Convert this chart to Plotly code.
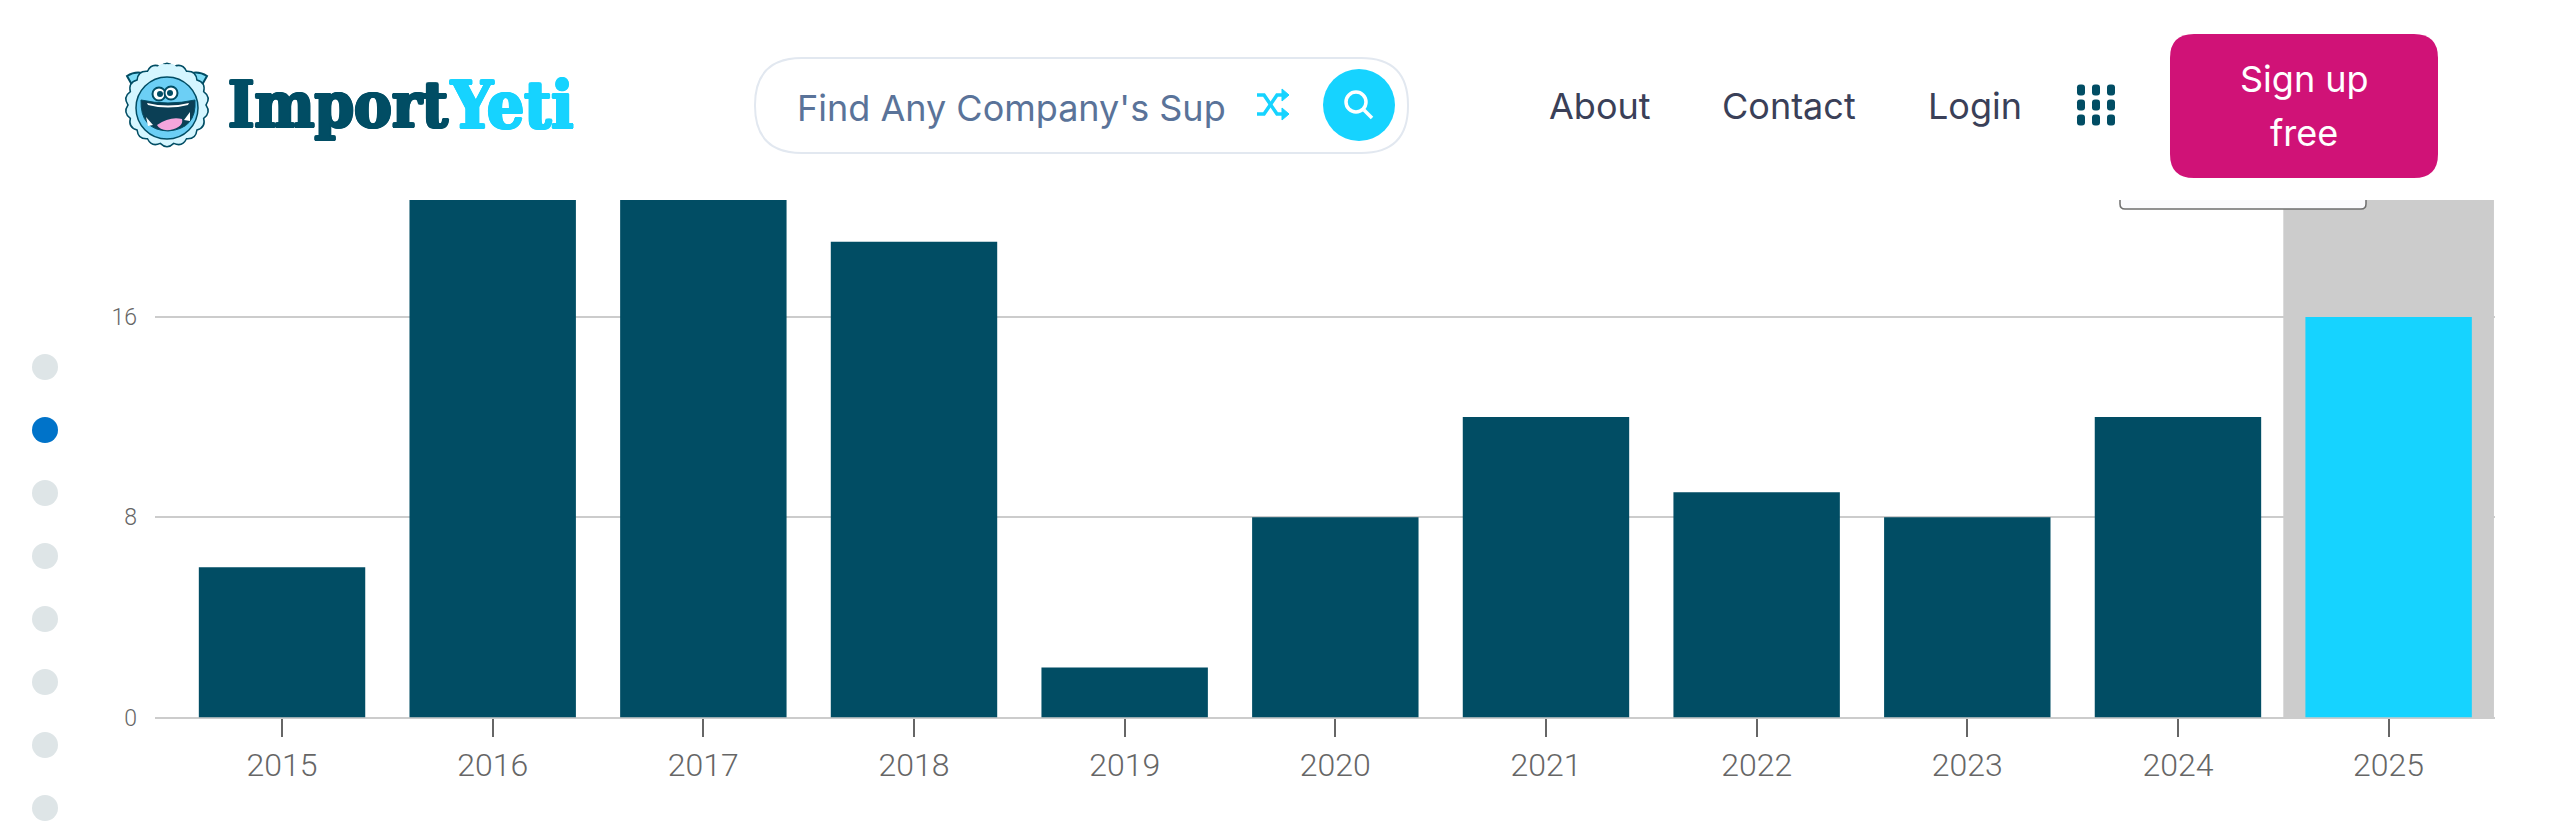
import math
import plotly.graph_objects as go

# Chart data
years = ["2015", "2016", "2017", "2018", "2019", "2020", "2021", "2022", "2023", "2024", "2025"]
shipments = [6, 24, 22, 19, 2, 8, 12, 9, 8, 12, 16]
y_ticks = [0, 8, 16]
highlight_year = "2025"

# Colours
NAVY = "#014D64"
CYAN = "#16D3FF"
BAND = "#CCCCCC"
PINK = "#D01277"
W, H = 2560, 837

# Plot box in pixels
LEFT, RIGHT, TOP, BASE = 155, 2495, 200, 717.6
UNIT = 25.04
Y_MAX = (BASE - TOP) / UNIT


def fx(x):
    return x / W


def fy(y):
    return 1 - y / H


shapes = []
annotations = []


def circle(cx, cy, r, fill, line=None, lw=0):
    shapes.append(dict(type="circle", xref="paper", yref="paper",
                       x0=fx(cx - r), x1=fx(cx + r), y0=fy(cy + r), y1=fy(cy - r),
                       fillcolor=fill, line=dict(color=line or fill, width=lw), layer="above"))


def path(points, fill=None, line=None, lw=0, close=True):
    """Curve from tokens: pixel pairs and SVG command letters."""
    parts = []
    for p in points:
        parts.append(p if isinstance(p, str) else f"{fx(p[0]):.6f},{fy(p[1]):.6f}")
    d = " ".join(parts) + (" Z" if close else "")
    shapes.append(dict(type="path", xref="paper", yref="paper", path=d,
                       fillcolor=fill or "rgba(0,0,0,0)",
                       line=dict(color=line or "rgba(0,0,0,0)", width=lw), layer="above"))


def round_rect(x0, y0, x1, y1, r, fill, line=None, lw=0):
    path(["M", (x0 + r, y0), "L", (x1 - r, y0), "Q", (x1, y0), (x1, y0 + r),
          "L", (x1, y1 - r), "Q", (x1, y1), (x1 - r, y1),
          "L", (x0 + r, y1), "Q", (x0, y1), (x0, y1 - r),
          "L", (x0, y0 + r), "Q", (x0, y0), (x0 + r, y0)], fill, line, lw)


def label(x, y, text, size, color, family="Inter", anchor="left", shadow=None):
    font = dict(family=family, size=size, color=color)
    if shadow:
        font["shadow"] = shadow
    annotations.append(dict(xref="paper", yref="paper", x=fx(x), y=fy(y), text=text,
                            showarrow=False, xanchor=anchor, yanchor="middle", borderpad=0,
                            font=font))


def fluff(cx, cy, r, bumps, depth, fill, line, lw):
    """Scalloped outline of the mascot's fur."""
    def at(angle, radius):
        return (cx + radius * math.cos(angle), cy + radius * math.sin(angle))
    step = 2 * math.pi / bumps
    pts = ["M", at(0, r)]
    for i in range(bumps):
        pts += ["Q", at((i + 0.5) * step, r + depth), at((i + 1) * step, r)]
    path(pts, fill, line, lw)


def heavy(color):
    return ", ".join(f"{dx}px {dy}px 0 {color}" for dx, dy in
                     ((1.5, 0), (-1.5, 0), (0, 1), (0, -1), (1, 1), (-1, -1), (1, -1), (-1, 1)))


# Yeti logo
path(["M", (127, 76), "Q", (136, 70), (146, 74), "L", (156, 90), "L", (136, 92)], "#7FDDF7", NAVY, 2)
path(["M", (207, 76), "Q", (198, 70), (188, 74), "L", (178, 90), "L", (198, 92)], "#7FDDF7", NAVY, 2)
fluff(167, 105, 39, 18, 6, "#D5F6FF", NAVY, 1.5)
fluff(167, 80, 15, 8, 5, "#D5F6FF", None, 0)
circle(167, 108, 31, "#6CCFF5", NAVY, 1.5)
path(["M", (141, 100), "Q", (168, 106), (195, 100), "Q", (197, 129), (168, 131),
      "Q", (140, 130), (141, 100)], "#0B3F55", NAVY, 1)
path(["M", (157, 125), "Q", (170, 116), (182, 119), "Q", (184, 127), (170, 130), "Q", (160, 131), (157, 125)], "#F4A6DC")
path(["M", (146, 117), "L", (153, 125), "L", (148, 126)], "#FFFFFF")
path(["M", (190, 112), "L", (184, 120), "L", (190, 121)], "#FFFFFF")
path(["M", (147, 103), "Q", (168, 108), (189, 103), "L", (188, 105), "Q", (168, 110), (148, 105)], "#FFFFFF")
circle(159, 94, 6.5, "#FFFFFF", NAVY, 2)
circle(171, 93, 6.5, "#FFFFFF", NAVY, 2)
circle(160, 94, 3, NAVY)
circle(170, 93, 3, NAVY)

# Wordmark
label(227, 105, "<b>Import</b>", 63, NAVY, "DejaVu Serif Condensed", shadow=heavy(NAVY))
label(449, 105, "<b>Yeti</b>", 65, CYAN, "DejaVu Serif Condensed", shadow=heavy(CYAN))

# Search box
round_rect(755, 58, 1408, 153, 47, "#FFFFFF", "#E2E8F0", 2)
label(796, 108, "Find Any Company's Sup", 36, "#5A7399")
path(["M", (1257, 95), "L", (1264, 95), "L", (1277, 114), "L", (1284, 114)], None, CYAN, 3.5, close=False)
path(["M", (1257, 114), "L", (1264, 114), "L", (1277, 95), "L", (1284, 95)], None, CYAN, 3.5, close=False)
path(["M", (1282, 89), "L", (1289, 95), "L", (1282, 101)], CYAN, CYAN, 1)
path(["M", (1282, 108), "L", (1289, 114), "L", (1282, 120)], CYAN, CYAN, 1)
circle(1359, 105, 36, CYAN)
circle(1356, 102, 10, "rgba(0,0,0,0)", "#FFFFFF", 3.5)
path(["M", (1364, 110), "L", (1372, 118)], None, "#FFFFFF", 3.5, close=False)

# Navigation
label(1547.5, 106, "About", 36, "#3A4058")
label(1720.5, 106, "Contact", 36, "#3A4058")
label(1926.5, 106, "Login", 36, "#3A4058")
for gx in (2081, 2096, 2111):
    for gy in (90, 105, 120):
        round_rect(gx - 4, gy - 5.5, gx + 4, gy + 5.5, 3, NAVY)
round_rect(2170, 34, 2438, 178, 24, PINK)
label(2304, 79, "Sign up", 36, "#FFFFFF", anchor="center")
label(2304, 133, "free", 36, "#FFFFFF", anchor="center")

# Lower edge of a tooltip tucked under the header
path(["M", (2120, 200), "L", (2120, 204), "Q", (2120, 209), (2125, 209),
      "L", (2361, 209), "Q", (2366, 209), (2366, 204), "L", (2366, 200)],
     "#FAFAFD", "#6E6E6E", 1.5, close=False)

# Pager dots
for i, dot_y in enumerate((367, 430, 493, 556, 619, 682, 745, 808)):
    circle(45, dot_y, 13, "#0073C9" if i == 1 else "#DEE5E7")

fig = go.Figure()

# Full-height band behind the highlighted year, above the gridlines
fig.add_bar(x=[highlight_year], y=[Y_MAX], width=1, marker=dict(color=BAND, line=dict(width=0)),
            hoverinfo="skip")
fig.add_bar(
    x=years, y=shipments, width=0.79,
    marker=dict(color=[CYAN if y == highlight_year else NAVY for y in years], line=dict(width=0)),
)

fig.update_layout(
    width=W, height=H, margin=dict(l=0, r=0, t=0, b=0, pad=0, autoexpand=False), barmode="overlay",
    paper_bgcolor="#FFFFFF", plot_bgcolor="#FFFFFF", showlegend=False,
    shapes=shapes, annotations=annotations,
    xaxis=dict(domain=[LEFT / W, RIGHT / W], type="category", range=[-0.603, 10.505], automargin=False,
               categoryorder="array", categoryarray=years,
               showgrid=False, zeroline=False, showline=False,
               ticks="outside", ticklen=18, tickwidth=2, tickcolor="#666666",
               ticklabelstandoff=1,
               tickfont=dict(family="Roboto Light, Roboto", size=32, color="#666666")),
    yaxis=dict(domain=[1 - BASE / H, 1 - TOP / H], range=[0, Y_MAX], automargin=False,
               tickmode="array", tickvals=y_ticks, ticktext=[str(v) for v in y_ticks],
               showgrid=True, gridcolor="#CCCCCC", gridwidth=2,
               zeroline=True, zerolinecolor="#CCCCCC", zerolinewidth=2,
               showline=False, ticks="", ticklabelstandoff=17,
               tickfont=dict(family="Roboto Light, Roboto", size=23, color="#666666")),
)

fig.write_html("out.html", config=dict(displayModeBar=False))
